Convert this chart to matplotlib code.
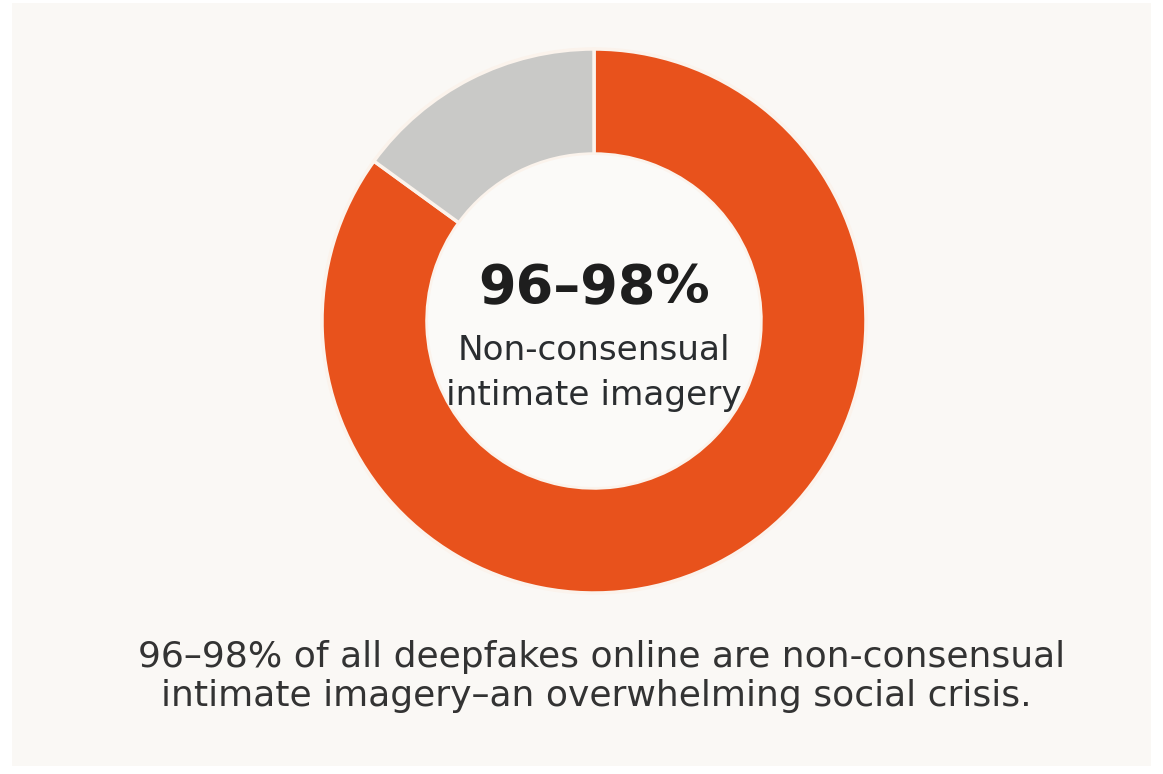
import matplotlib
matplotlib.use("Agg")
import matplotlib.pyplot as plt
from matplotlib.patches import Circle, Rectangle

labels = ["Non-consensual intimate imagery", "Other"]
values = [85, 15]
colors = ["#e8521c", "#c9c9c7"]
center_value = "96–98%"
center_label_lines = ["Non-consensual", "intimate imagery"]
caption_lines = ["96–98% of all deepfakes online are non-consensual",
                 "intimate imagery–an overwhelming social crisis."]

W, H = 1163, 774
fig = plt.figure(figsize=(W / 100, H / 100), dpi=100)
fig.patch.set_facecolor("white")
ax = fig.add_axes([0, 0, 1, 1])

FONT = "DejaVu Sans"

cx, cy = 594, H - 321
R, r = 272, 167
ax.pie(values, colors=colors, startangle=90, counterclock=False,
       radius=R, center=(cx, cy), frame=True,
       wedgeprops=dict(width=R - r, edgecolor="#fbf3ec", linewidth=2.5))
ax.set_xlim(0, W)
ax.set_ylim(0, H)
ax.set_aspect("equal")
ax.axis("off")
ax.add_patch(Rectangle((12, 8), W - 24, H - 11, facecolor="#faf8f5", edgecolor="none", zorder=0))
ax.add_patch(Circle((cx, cy), r - 1, facecolor="#fbfaf8", edgecolor="none", zorder=3))

ax.text(cx, H - 288, center_value, ha="center", va="center", fontsize=39,
        fontfamily=FONT, fontweight="bold", color="#1e1e1e", zorder=5)
for yy, line in zip([351, 395], center_label_lines):
    ax.text(cx, H - yy, line, ha="center", va="center", fontsize=24.7,
            fontfamily=FONT, color="#2a2d30", zorder=5)

for yy, xx, line in zip([657, 696], [602, 596], caption_lines):
    ax.text(xx, H - yy, line, ha="center", va="center", fontsize=26,
            fontfamily=FONT, color="#333333")

fig.savefig("out.png", dpi=100, facecolor=fig.get_facecolor())
